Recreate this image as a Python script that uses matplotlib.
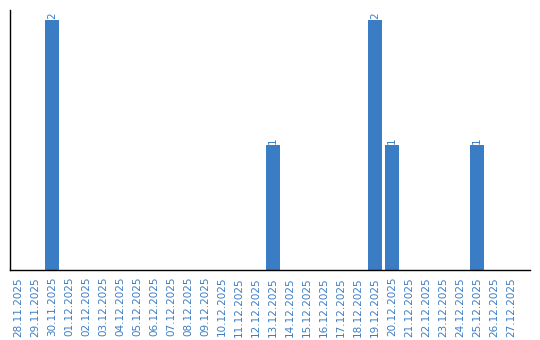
import matplotlib
matplotlib.use("Agg")
import matplotlib.pyplot as plt
import pandas as pd

dates = pd.date_range("2025-11-28", "2025-12-27", freq="D")
labels = [d.strftime("%d.%m.%Y") for d in dates]
counts_map = {"30.11.2025": 2, "13.12.2025": 1, "19.12.2025": 2, "20.12.2025": 1, "25.12.2025": 1}
values = [counts_map.get(l, 0) for l in labels]

blue = "#3b7dc4"
fig = plt.figure(figsize=(5.4, 3.4), dpi=100)
ax = fig.add_axes([10/540, 70/340, 520/540, 260/340])
x = list(range(len(labels)))
ax.bar(x, values, width=0.82, color=blue)
for xi, v in zip(x, values):
    if v > 0:
        ax.text(xi, v + 0.01, str(v), rotation=90, ha="center", va="bottom",
                color=blue, fontsize=7.5)
ax.set_xlim(-0.47, 30.1)
ax.set_ylim(0, 2.08)
ax.set_xticks(x)
ax.set_xticklabels(labels, rotation=90, color=blue, fontsize=7.5)
ax.tick_params(axis="x", length=0, pad=5)
ax.set_yticks([])
for s in ["top", "right"]:
    ax.spines[s].set_visible(False)
for s in ["left", "bottom"]:
    ax.spines[s].set_linewidth(1.0)
fig.savefig("out.png", dpi=100)
